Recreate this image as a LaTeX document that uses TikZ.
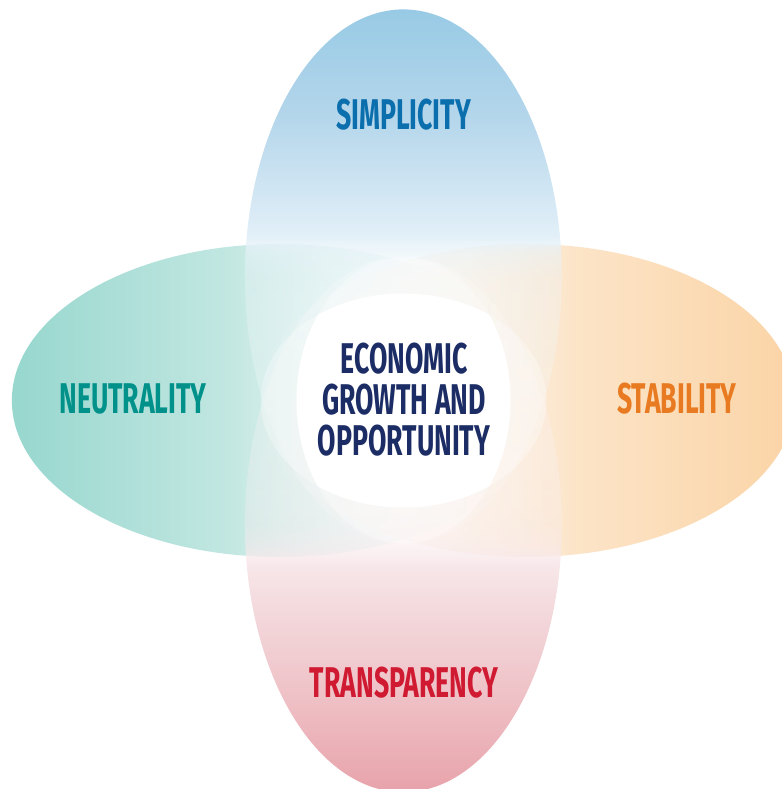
\documentclass[tikz,border=0pt]{standalone}
\usepackage{fontspec}
\usetikzlibrary{fadings}
\newfontfamily\cond[FakeStretch=0.62]{Fira Sans}
\definecolor{blueA}{HTML}{98CAE5}
\definecolor{blueE}{HTML}{B4D6EB}
\definecolor{blueD}{HTML}{D5E8F4}
\definecolor{blueC}{HTML}{E6F2F9}
\definecolor{blueF}{HTML}{EEF6FB}
\definecolor{tealA}{HTML}{97D7CE}
\definecolor{tealB}{HTML}{C8E9E4}
\definecolor{orgA}{HTML}{FBD4A6}
\definecolor{orgB}{HTML}{FCE6CC}
\definecolor{pinkA}{HTML}{E8A2AA}
\definecolor{pinkE}{HTML}{EEC0C5}
\definecolor{pinkD}{HTML}{F4DCDF}
\definecolor{pinkC}{HTML}{F8E8EB}
\definecolor{pinkF}{HTML}{FAF0F2}
\definecolor{txtBlue}{HTML}{0B6EAD}
\definecolor{txtTeal}{HTML}{00928A}
\definecolor{txtOrange}{HTML}{E87B22}
\definecolor{txtRed}{HTML}{CF1A32}
\definecolor{txtNavy}{HTML}{1C2D66}
% colour shadings (25bp..75bp span the shape)
\pgfdeclarehorizontalshading{leftPetal}{100bp}{color(0bp)=(tealA); color(25bp)=(tealA);
  color(48bp)=(tealB); color(75bp)=(white); color(100bp)=(white)}
\pgfdeclarehorizontalshading{rightPetal}{100bp}{color(0bp)=(white); color(25bp)=(white);
  color(52bp)=(orgB); color(75bp)=(orgA); color(100bp)=(orgA)}
\pgfdeclareverticalshading{topPetal}{100bp}{color(0bp)=(white); color(25bp)=(white);
  color(48bp)=(blueF); color(53bp)=(blueC); color(57bp)=(blueD); color(65bp)=(blueE);
  color(75bp)=(blueA); color(100bp)=(blueA)}
\pgfdeclareverticalshading{bottomPetal}{100bp}{color(0bp)=(pinkA); color(25bp)=(pinkA);
  color(33.6bp)=(pinkE); color(43bp)=(pinkD); color(46.5bp)=(pinkC); color(52bp)=(pinkF);
  color(75bp)=(white); color(100bp)=(white)}
% opacity fadings
\pgfdeclarehorizontalshading{leftFadeSh}{100bp}{color(0bp)=(pgftransparent!0);
  color(45bp)=(pgftransparent!0); color(75bp)=(pgftransparent!100); color(100bp)=(pgftransparent!100)}
\pgfdeclarefading{leftFade}{\pgfuseshading{leftFadeSh}}
\pgfdeclarehorizontalshading{rightFadeSh}{100bp}{color(0bp)=(pgftransparent!100);
  color(25bp)=(pgftransparent!100); color(55bp)=(pgftransparent!0); color(100bp)=(pgftransparent!0)}
\pgfdeclarefading{rightFade}{\pgfuseshading{rightFadeSh}}
\pgfdeclareverticalshading{topFadeSh}{100bp}{color(0bp)=(pgftransparent!80);
  color(25bp)=(pgftransparent!80); color(50bp)=(pgftransparent!65); color(52bp)=(pgftransparent!45);
  color(54bp)=(pgftransparent!0); color(100bp)=(pgftransparent!0)}
\pgfdeclarefading{topFade}{\pgfuseshading{topFadeSh}}
\pgfdeclareverticalshading{bottomFadeSh}{100bp}{color(0bp)=(pgftransparent!0);
  color(46bp)=(pgftransparent!0); color(48bp)=(pgftransparent!45); color(50bp)=(pgftransparent!65);
  color(75bp)=(pgftransparent!80); color(100bp)=(pgftransparent!80)}
\pgfdeclarefading{bottomFade}{\pgfuseshading{bottomFadeSh}}
\tikzset{
  lbl/.style={inner sep=0pt, font=\cond\bfseries\fontsize{43}{41}\selectfont},
  glow/.style={white, opacity=0.3}
}
\begin{document}
\begin{tikzpicture}[x=1pt,y=-1pt]
\useasboundingbox (0,0) rectangle (782,789);
\clip (0,0) rectangle (782,789);
\fill[white] (0,0) rectangle (782,789);
% horizontal petals
\shade[shading=leftPetal, path fading=leftFade, fit fading=true]
  (280,400.5) ellipse [x radius=268, y radius=156.5];
\shade[shading=rightPetal, path fading=rightFade, fit fading=true]
  (527,400.5) ellipse [x radius=268, y radius=156.5];
% vertical petals
\shade[shading=topPetal, path fading=topFade, fit fading=true]
  (403.5,277) ellipse [x radius=158.5, y radius=268];
\shade[shading=bottomPetal, path fading=bottomFade, fit fading=true]
  (403.5,524) ellipse [x radius=158.5, y radius=268];
% white centre
\fill[glow] (403.5,400.5) ellipse [x radius=143, y radius=107];
\fill[glow] (403.5,400.5) ellipse [x radius=107, y radius=143];
\begin{scope}
  \clip (403.5,400.5) ellipse [x radius=143, y radius=107];
  \fill[white] (403.5,400.5) ellipse [x radius=107, y radius=143];
\end{scope}
% labels
\node[lbl, text=txtBlue] (simp) at (403.5,115) {SIMPLICITY};
\node[lbl, text=txtTeal] (neut) at (133,399) {NEUTRALITY};
\node[lbl, text=txtOrange] (stab) at (677,399) {STABILITY};
\node[lbl, text=txtRed] (trans) at (404,683) {TRANSPARENCY};
\node[lbl, text=txtNavy, align=center] (core) at (404,400)
  {ECONOMIC\\GROWTH AND\\OPPORTUNITY};
\end{tikzpicture}
\end{document}
